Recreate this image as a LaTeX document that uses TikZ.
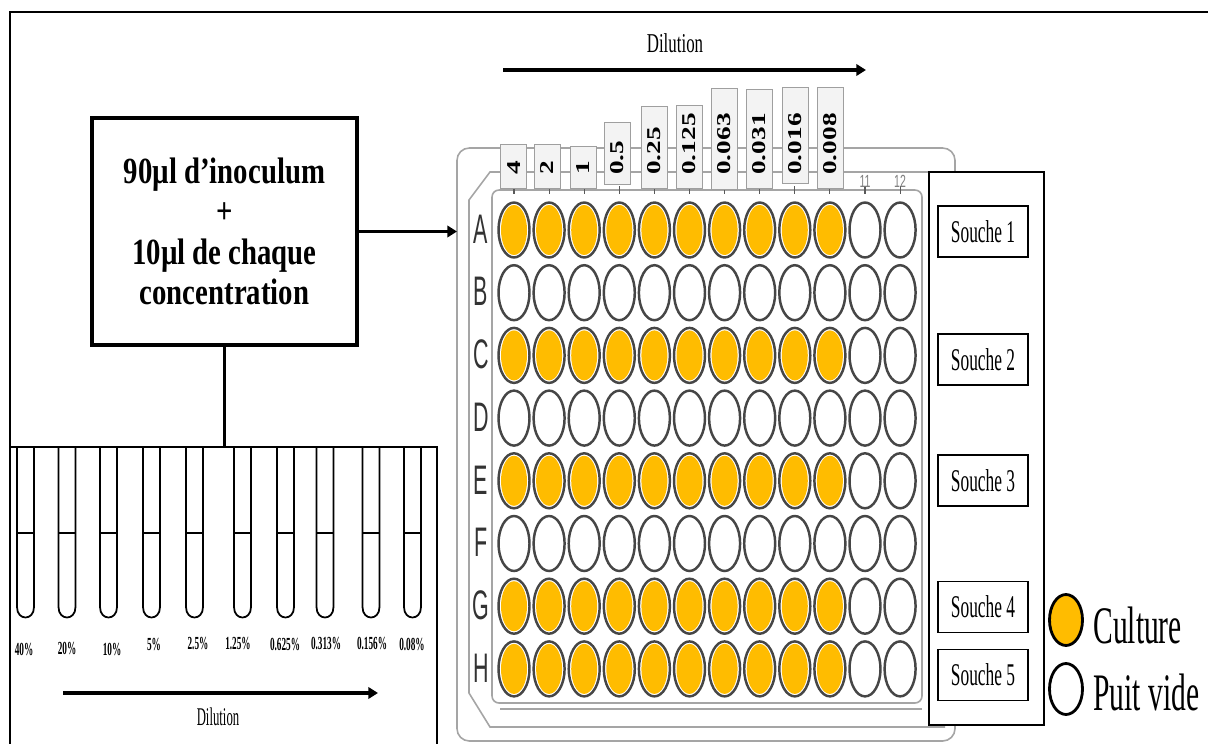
\documentclass[tikz,border=0pt]{standalone}
\usepackage{fontspec}
\setmainfont{Liberation Serif}
\newfontfamily\armfont{Liberation Sans}
\usetikzlibrary{arrows.meta,shapes.geometric}
\definecolor{cult}{RGB}{255,188,0}
\definecolor{platec}{RGB}{165,165,165}
\definecolor{ringc}{RGB}{70,70,70}
\definecolor{labfill}{RGB}{243,243,243}
\newcommand\sqz[2]{\scalebox{#1}[1]{#2}}
\begin{document}
\begin{tikzpicture}[x=0.02cm,y=-0.02cm,
 frame/.style={line width=1.1pt},
 mainbox/.style={draw,line width=2.2pt,fill=white,minimum width=5.3cm,minimum height=4.54cm,inner sep=0pt,align=center,font=\fontsize{21}{23}\selectfont\bfseries},
 bigarrow/.style={line width=2pt,-{Triangle[length=5.5pt,width=6.5pt]}},
 connline/.style={line width=2pt},
 tubeline/.style={line width=1pt},
 tubelab/.style={font=\fontsize{10.5}{11}\selectfont\bfseries,inner sep=0pt},
 dillab/.style={inner sep=0pt},
 plateline/.style={draw=platec,line width=0.9pt},
 well/.style={ellipse,draw=ringc,line width=1.4pt,fill=white,minimum width=0.62cm,minimum height=1.1cm,inner sep=0pt},
 conc/.style={draw=gray!75,fill=labfill,line width=0.5pt,inner sep=0pt,minimum width=0.52cm},
 conctext/.style={rotate=90,anchor=west,inner sep=0pt,font=\fontsize{15.5}{16}\selectfont\bfseries},
 rowlab/.style={font=\armfont\fontsize{23.5}{24}\selectfont,text=black!80,inner sep=0pt},
 collab/.style={font=\armfont\fontsize{10}{10}\selectfont,text=gray,inner sep=0pt},
 souchebox/.style={draw,line width=0.6pt,fill=white,minimum width=1.8cm,minimum height=1.02cm,inner sep=0pt,font=\fontsize{18}{20}\selectfont},
 legwell/.style={ellipse,draw=black,line width=1.6pt,minimum width=0.66cm,minimum height=1.02cm,inner sep=0pt},
 legtext/.style={anchor=base west,inner sep=0pt,font=\fontsize{30}{32}\selectfont}
]
\useasboundingbox (0,0) rectangle (1208,744);
\clip (0,0) rectangle (1208,744);
\fill[white] (0,0) rectangle (1208,744);

% outer frame
\draw[frame] (10,800) -- (10,12) -- (1260,12);

% main box
\node[mainbox] (box) at (224.5,231.5) {\sqz{0.78}{90µl d’inoculum}\\ \sqz{0.78}{+}\\ \sqz{0.78}{10µl de chaque}\\ \sqz{0.78}{concentration}};

% tube panel
\draw[line width=1pt] (10,800) -- (10,447) -- (437,447) -- (437,800);
\coordinate (tubetop) at (224.5,447);
\draw[connline] (box.south) -- (tubetop);

% tubes
\foreach \cx in {25.5,67,108.5,151.5,194.5,242.5,285.5,325,371,412.5} {
  \draw[tubeline] ({\cx-8.5},448) -- ({\cx-8.5},607) .. controls ({\cx-8.5},621) and ({\cx+8.5},621) .. ({\cx+8.5},607) -- ({\cx+8.5},448);
  \draw[tubeline] ({\cx-8.5},533) -- ({\cx+8.5},533);
}
\foreach \tx/\ty/\tt [count=\i] in {24/649/40\%,67/648/20\%,112/649/10\%,154/644/5\%,198/643/2.5\%,238/643/1.25\%,285/644/0.625\%,326/643/0.313\%,372/643/0.156\%,412/644/0.08\%} {
  \node[tubelab] (tl\i) at (\tx,\ty) {\sqz{0.5}{\tt}};
}
\coordinate (dilA1) at (63,693);
\coordinate (dilA2) at (378,693);
\draw[bigarrow] (dilA1) -- (dilA2);
\node[dillab,font=\fontsize{14.5}{16}\selectfont] (dilB) at (218,717) {\sqz{0.5}{Dilution}};

% top dilution
\node[dillab,font=\fontsize{15.5}{16}\selectfont] (dilT) at (675,43) {\sqz{0.62}{Dilution}};
\coordinate (dilT1) at (503,70);
\coordinate (dilT2) at (866,70);
\draw[bigarrow] (dilT1) -- (dilT2);

% plate outlines
\draw[plateline,rounded corners=7pt] (457,148) rectangle (955,741);
\draw[plateline] (945,172) -- (490,172) -- (469,200) -- (469,693) -- (490,727) -- (945,727);
\draw[plateline,rounded corners=4pt] (492,190) rectangle (922,703);
\draw[plateline] (500,709) -- (922,709);

% arrow to plate
\coordinate (plateL) at (457,231.5);
\draw[bigarrow] (box.east) -- (plateL);

% tick marks and column labels
\foreach \c in {1,...,12} {
  \draw[gray!70!black,line width=0.6pt] ({514+35.1*(\c-1)},186) -- ({514+35.1*(\c-1)},194);
}
\node[collab] (c11) at (865,181) {\sqz{0.6}{11}};
\node[collab] (c12) at (900,181) {\sqz{0.6}{12}};

% concentration labels
\foreach \xa/\xb/\yt/\yb/\tt [count=\i] in {500.7/526.7/144/188/4,534/560/144/188/2,570/596/146/188/1,604/630/122/184/0.5,641/667/106/188/0.25,676/702/105/188/0.125,711/737/88/189/0.063,746/772/89/188/0.031,782/808/87/183/0.016,817/843/87/188/0.008} {
  \node[conc,minimum height={(\yb-\yt)*0.02cm}] (lab\i) at ({(\xa+\xb)/2},{(\yt+\yb)/2}) {};
  \node[conctext] (ct\i) at ({(\xa+\xb)/2},175) {\scalebox{1}[0.72]{\tt}};
}

% wells
\foreach \r [count=\ri from 0] in {A,B,C,D,E,F,G,H} {
  \node[rowlab] (row\r) at (481,{229+62.7*\ri}) {\sqz{0.52}{\r}};
  \foreach \c in {1,...,12} {
    \node[well] (w\r\c) at ({514+35.1*(\c-1)},{230+62.7*\ri}) {};
  }
}
\foreach \r in {A,C,E,G,H} {
  \foreach \c in {1,...,10} {
    \fill[cult] (w\r\c.center) ellipse [x radius=0.26cm, y radius=0.5cm];
  }
}

% souche panel
\draw[line width=0.6pt,fill=white] (929,172) rectangle (1044,725);
\foreach \n/\sy in {1/231.5,2/359.5,3/480.5,4/607,5/675} {
  \node[souchebox] (s\n) at (983,\sy) {\sqz{0.55}{Souche \n}};
}

% legend
\node[legwell,fill=cult] (legC) at (1066,620) {};
\node[legtext] (legCt) at (1093,643) {\sqz{0.56}{Culture}};
\node[legwell,fill=white] (legP) at (1066,689) {};
\node[legtext] (legPt) at (1093,710) {\sqz{0.56}{Puit vide}};
\end{tikzpicture}
\end{document}
